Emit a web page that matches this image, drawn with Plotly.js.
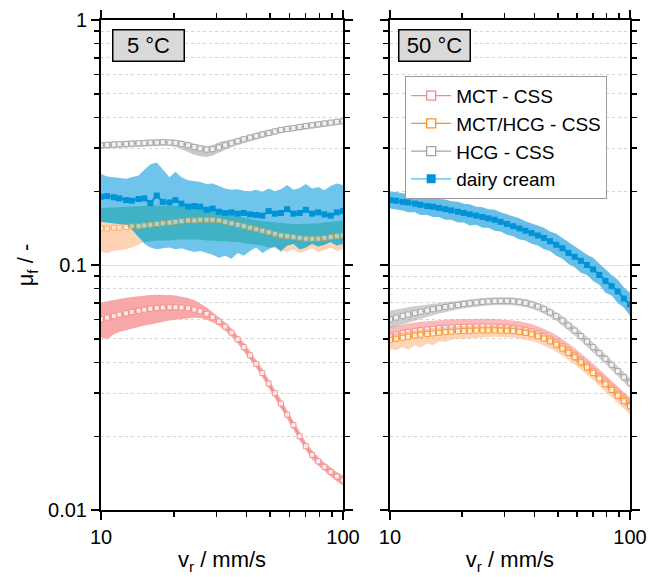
<!DOCTYPE html>
<html>
<head>
<meta charset="utf-8">
<script src="https://cdn.plot.ly/plotly-3.0.1.min.js"></script>
<style>html,body{margin:0;padding:0;background:#fff;}</style>
</head>
<body>
<div id="chart" style="width:650px;height:577px;"></div>
<script>
// sliding speed v_r (mm/s)
const vr = [10,10.6,11.3,11.9,12.7,13.4,14.3,15.1,16,17,18,19.2,20.3,21.5,22.9,24.3,25.7,27.3,28.9,30.7,32.6,34.6,36.7,38.9,41.3,43.8,46.4,49.3,52.3,55.4,58.8,62.4,66.2,70.2,74.5,79,83.8,88.9,94.3,100];

const seriesNames = ['MCT - CSS','MCT/HCG - CSS','HCG - CSS','dairy cream'];
const panelLabels = ['5 °C','50 °C'];

// ---------- 5 °C ----------
const mct5 = [0.0600,0.0610,0.0618,0.0627,0.0635,0.0643,0.0650,0.0657,0.0663,0.0667,0.0670,0.0672,0.0672,0.0670,0.0666,0.0658,0.0648,0.0632,0.0612,0.0588,0.0560,0.0530,0.0497,0.0462,0.0428,0.0395,0.0362,0.0328,0.0300,0.0272,0.0245,0.0222,0.0200,0.0182,0.0168,0.0158,0.0150,0.0143,0.0137,0.0132];
const mct5Up = [0.0700,0.0712,0.0720,0.0728,0.0735,0.0741,0.0747,0.0751,0.0754,0.0756,0.0756,0.0754,0.0750,0.0743,0.0733,0.0718,0.0698,0.0672,0.0642,0.0612,0.0582,0.0551,0.0517,0.0481,0.0445,0.0411,0.0377,0.0341,0.0312,0.0283,0.0255,0.0231,0.0208,0.0189,0.0175,0.0164,0.0156,0.0149,0.0143,0.0138];
const mct5Lo = [0.0508,0.0497,0.0522,0.0533,0.0541,0.0549,0.0556,0.0566,0.0572,0.0580,0.0588,0.0594,0.0598,0.0602,0.0606,0.0609,0.0608,0.0598,0.0584,0.0565,0.0539,0.0510,0.0478,0.0444,0.0411,0.0380,0.0348,0.0315,0.0288,0.0261,0.0235,0.0213,0.0192,0.0175,0.0161,0.0152,0.0144,0.0137,0.0131,0.0126];

const mix5 = [0.141,0.141,0.142,0.142,0.143,0.144,0.144,0.145,0.146,0.147,0.148,0.149,0.150,0.151,0.152,0.152,0.153,0.153,0.153,0.152,0.150,0.148,0.146,0.144,0.142,0.140,0.138,0.136,0.134,0.132,0.131,0.130,0.129,0.128,0.128,0.128,0.129,0.130,0.131,0.132];
const mix5Up = [0.171,0.171,0.172,0.172,0.173,0.173,0.174,0.174,0.175,0.175,0.175,0.175,0.174,0.174,0.173,0.172,0.171,0.170,0.168,0.166,0.164,0.161,0.158,0.156,0.154,0.152,0.151,0.150,0.149,0.148,0.148,0.147,0.147,0.147,0.147,0.148,0.149,0.150,0.151,0.152];
const mix5Lo = [0.113,0.112,0.114,0.115,0.116,0.118,0.121,0.124,0.125,0.126,0.126,0.126,0.127,0.127,0.127,0.127,0.127,0.126,0.126,0.125,0.125,0.124,0.124,0.123,0.122,0.121,0.120,0.118,0.117,0.115,0.113,0.116,0.112,0.114,0.117,0.113,0.115,0.118,0.114,0.116];

const hcg5 = [0.308,0.309,0.310,0.311,0.312,0.313,0.314,0.315,0.316,0.316,0.317,0.316,0.315,0.312,0.308,0.303,0.299,0.296,0.297,0.302,0.308,0.314,0.320,0.326,0.331,0.336,0.341,0.346,0.351,0.356,0.359,0.362,0.366,0.369,0.372,0.375,0.378,0.381,0.384,0.386];
const hcg5Up = [0.318,0.319,0.320,0.321,0.322,0.323,0.324,0.325,0.326,0.326,0.327,0.326,0.325,0.322,0.318,0.313,0.309,0.306,0.308,0.318,0.321,0.325,0.331,0.337,0.342,0.347,0.352,0.357,0.362,0.367,0.370,0.373,0.377,0.380,0.383,0.386,0.389,0.392,0.395,0.397];
const hcg5Lo = [0.298,0.299,0.300,0.301,0.302,0.303,0.304,0.305,0.306,0.306,0.307,0.306,0.304,0.297,0.289,0.282,0.278,0.276,0.280,0.288,0.296,0.303,0.309,0.315,0.320,0.325,0.330,0.335,0.340,0.345,0.348,0.351,0.355,0.358,0.361,0.364,0.367,0.370,0.373,0.375];

const cream5 = [0.190,0.191,0.189,0.187,0.184,0.183,0.186,0.187,0.179,0.192,0.181,0.180,0.184,0.178,0.173,0.174,0.173,0.168,0.170,0.165,0.163,0.164,0.162,0.163,0.161,0.160,0.159,0.166,0.162,0.163,0.169,0.162,0.163,0.168,0.162,0.164,0.161,0.159,0.164,0.166];
const cream5Up = [0.235,0.230,0.228,0.226,0.225,0.228,0.232,0.245,0.258,0.262,0.245,0.228,0.240,0.228,0.222,0.220,0.218,0.214,0.215,0.210,0.205,0.203,0.204,0.201,0.200,0.203,0.199,0.205,0.200,0.204,0.212,0.203,0.206,0.214,0.205,0.208,0.202,0.210,0.215,0.212];
const cream5Lo = [0.150,0.149,0.148,0.147,0.146,0.140,0.130,0.122,0.118,0.116,0.117,0.118,0.116,0.117,0.115,0.113,0.114,0.112,0.110,0.107,0.109,0.106,0.112,0.109,0.114,0.118,0.112,0.116,0.119,0.113,0.120,0.122,0.116,0.118,0.122,0.119,0.121,0.124,0.120,0.122];

// ---------- 50 °C ----------
const mct50 = [0.0515,0.0522,0.0528,0.0533,0.0538,0.0542,0.0546,0.0549,0.0552,0.0554,0.0556,0.0558,0.0559,0.0560,0.0561,0.0561,0.0561,0.0560,0.0559,0.0557,0.0554,0.0550,0.0544,0.0536,0.0526,0.0514,0.0500,0.0484,0.0466,0.0447,0.0428,0.0408,0.0389,0.0369,0.0350,0.0332,0.0314,0.0297,0.0282,0.0268];
const mct50Up = [0.0560,0.0566,0.0572,0.0577,0.0582,0.0586,0.0590,0.0593,0.0596,0.0598,0.0600,0.0601,0.0602,0.0603,0.0603,0.0603,0.0603,0.0602,0.0600,0.0598,0.0594,0.0589,0.0583,0.0574,0.0563,0.0550,0.0535,0.0518,0.0499,0.0478,0.0458,0.0437,0.0416,0.0395,0.0375,0.0355,0.0336,0.0318,0.0302,0.0287];
const mct50Lo = [0.0485,0.0492,0.0498,0.0504,0.0509,0.0514,0.0518,0.0522,0.0525,0.0528,0.0530,0.0532,0.0533,0.0534,0.0535,0.0535,0.0535,0.0534,0.0533,0.0531,0.0528,0.0524,0.0518,0.0510,0.0500,0.0489,0.0476,0.0461,0.0444,0.0426,0.0408,0.0389,0.0371,0.0352,0.0334,0.0317,0.0300,0.0284,0.0269,0.0256];

const mix50 = [0.0495,0.0500,0.0505,0.0510,0.0515,0.0519,0.0523,0.0526,0.0529,0.0532,0.0534,0.0536,0.0538,0.0539,0.0540,0.0541,0.0541,0.0541,0.0540,0.0539,0.0537,0.0533,0.0528,0.0521,0.0512,0.0501,0.0488,0.0473,0.0456,0.0438,0.0420,0.0401,0.0382,0.0363,0.0344,0.0326,0.0309,0.0293,0.0278,0.0265];
const mix50Up = [0.0525,0.0528,0.0532,0.0536,0.0540,0.0544,0.0548,0.0551,0.0554,0.0557,0.0559,0.0561,0.0563,0.0564,0.0565,0.0566,0.0566,0.0566,0.0565,0.0564,0.0562,0.0558,0.0553,0.0546,0.0537,0.0526,0.0513,0.0498,0.0481,0.0462,0.0443,0.0424,0.0404,0.0384,0.0365,0.0346,0.0329,0.0313,0.0297,0.0284];
const mix50Lo = [0.0455,0.0450,0.0462,0.0452,0.0470,0.0460,0.0478,0.0470,0.0488,0.0485,0.0497,0.0499,0.0503,0.0505,0.0507,0.0508,0.0509,0.0509,0.0508,0.0507,0.0505,0.0501,0.0496,0.0489,0.0480,0.0469,0.0457,0.0443,0.0427,0.0410,0.0393,0.0375,0.0357,0.0339,0.0321,0.0304,0.0288,0.0273,0.0258,0.0246];

const hcg50 = [0.0600,0.0610,0.0620,0.0628,0.0636,0.0644,0.0652,0.0660,0.0667,0.0674,0.0681,0.0687,0.0693,0.0698,0.0703,0.0707,0.0710,0.0712,0.0713,0.0713,0.0711,0.0707,0.0700,0.0690,0.0677,0.0660,0.0640,0.0618,0.0593,0.0566,0.0540,0.0513,0.0487,0.0462,0.0437,0.0414,0.0391,0.0369,0.0348,0.0330];
const hcg50Up = [0.0650,0.0658,0.0666,0.0672,0.0678,0.0684,0.0690,0.0695,0.0700,0.0705,0.0710,0.0715,0.0720,0.0725,0.0729,0.0733,0.0736,0.0738,0.0739,0.0739,0.0737,0.0733,0.0726,0.0716,0.0703,0.0686,0.0666,0.0644,0.0619,0.0591,0.0564,0.0536,0.0509,0.0483,0.0457,0.0433,0.0409,0.0386,0.0364,0.0346];
const hcg50Lo = [0.0552,0.0562,0.0574,0.0584,0.0594,0.0604,0.0614,0.0624,0.0634,0.0643,0.0652,0.0659,0.0666,0.0671,0.0677,0.0681,0.0684,0.0686,0.0687,0.0687,0.0685,0.0681,0.0674,0.0664,0.0651,0.0634,0.0614,0.0592,0.0567,0.0541,0.0516,0.0490,0.0465,0.0441,0.0417,0.0395,0.0373,0.0352,0.0332,0.0314];

const cream50 = [0.184,0.183,0.181,0.180,0.178,0.176,0.174,0.173,0.171,0.169,0.167,0.165,0.163,0.161,0.159,0.157,0.155,0.153,0.150,0.147,0.144,0.141,0.138,0.135,0.132,0.129,0.125,0.121,0.117,0.112,0.108,0.104,0.100,0.096,0.091,0.086,0.082,0.078,0.073,0.069];
const cream50Up = [0.198,0.199,0.196,0.197,0.193,0.193,0.189,0.190,0.186,0.185,0.182,0.181,0.178,0.177,0.173,0.172,0.169,0.168,0.164,0.161,0.158,0.155,0.151,0.148,0.145,0.142,0.137,0.134,0.129,0.124,0.119,0.115,0.110,0.107,0.101,0.096,0.091,0.087,0.081,0.077];
const cream50Lo = [0.170,0.168,0.167,0.164,0.164,0.160,0.160,0.157,0.157,0.153,0.153,0.149,0.149,0.145,0.146,0.142,0.142,0.138,0.137,0.133,0.131,0.127,0.126,0.122,0.120,0.116,0.114,0.109,0.106,0.101,0.098,0.093,0.091,0.086,0.083,0.077,0.075,0.070,0.067,0.062];

// axis ticks
const yMajor = [0.01,0.1,1];
const yMajorText = ['0.01','0.1','1'];
const yMinor = [0.02,0.03,0.04,0.05,0.06,0.07,0.08,0.09,0.2,0.3,0.4,0.5,0.6,0.7,0.8,0.9];
const xMajor = [10,100];
const xMajorText = ['10','100'];
const xMinor = [20,30,40,50,60,70,80,90];

// ---------- styles ----------
const C = {
  mct:  {line:'#f48a8a', band:'#f8a8a8', band50:'rgba(246,130,130,0.55)'},
  mix:  {line:'#f7941d', band:'#fdd3b4', band50:'rgba(252,170,110,0.5)'},
  hcg:  {line:'#a3a3a3', band:'#c9c9c9', band50:'rgba(165,165,165,0.55)'},
  cream:{line:'#0093d9', lline:'#45bde9', band:'#6ec4ea', band50:'#66bfe8'},
  overlap:'#3fb2c6'
};

const traces = [];
function band(xa, ya, lo, up, color) {
  traces.push({x:vr, y:lo, xaxis:xa, yaxis:ya, type:'scatter', mode:'lines',
    line:{width:0, color:color}, showlegend:false, hoverinfo:'skip'});
  traces.push({x:vr, y:up, xaxis:xa, yaxis:ya, type:'scatter', mode:'lines',
    line:{width:0, color:color}, fill:'tonexty', fillcolor:color, showlegend:false, hoverinfo:'skip'});
}
function openLine(xa, ya, y, color, op) {
  traces.push({x:vr, y:y, xaxis:xa, yaxis:ya, type:'scatter', mode:'lines+markers',
    opacity: op || 1,
    line:{width:1.2, color:color},
    marker:{symbol:'square', size:5, color:'rgba(255,255,255,0.8)', line:{color:color, width:0.9}},
    showlegend:false});
}
function creamLine(xa, ya, y) {
  traces.push({x:vr, y:y, xaxis:xa, yaxis:ya, type:'scatter', mode:'lines+markers',
    line:{width:2, color:C.cream.line},
    marker:{symbol:'square', size:6, color:C.cream.line, line:{width:0}},
    showlegend:false});
}

// overlap of the cream and MCT/HCG bands at 5 °C
const ovLo = vr.map((_, i) => Math.max(cream5Lo[i], mix5Lo[i]));
const ovUp = vr.map((_, i) => Math.max(ovLo[i], Math.min(cream5Up[i], mix5Up[i])));

// 5 °C panel
band('x','y', mix5Lo, mix5Up, C.mix.band);
band('x','y', cream5Lo, cream5Up, C.cream.band);
band('x','y', ovLo, ovUp, C.overlap);
band('x','y', mct5Lo, mct5Up, C.mct.band);
band('x','y', hcg5Lo, hcg5Up, C.hcg.band);
openLine('x','y', mct5, C.mct.line);
openLine('x','y', mix5, C.mix.line, 0.6);
openLine('x','y', hcg5, C.hcg.line);
creamLine('x','y', cream5);

// 50 °C panel
band('x2','y2', mct50Lo, mct50Up, C.mct.band50);
openLine('x2','y2', mct50, C.mct.line);
band('x2','y2', mix50Lo, mix50Up, C.mix.band50);
openLine('x2','y2', mix50, C.mix.line);
band('x2','y2', hcg50Lo, hcg50Up, C.hcg.band50);
openLine('x2','y2', hcg50, C.hcg.line);
band('x2','y2', cream50Lo, cream50Up, C.cream.band50);
creamLine('x2','y2', cream50);

// legend entries
const legCols = [C.mct.line, C.mix.line, C.hcg.line];
for (let k = 0; k < 3; k++) {
  traces.push({x:[null], y:[null], xaxis:'x2', yaxis:'y2', type:'scatter', mode:'lines+markers',
    name:seriesNames[k], line:{width:1.2, color:legCols[k]},
    marker:{symbol:'square', size:9, color:'#fff', line:{color:legCols[k], width:1.3}}});
}
traces.push({x:[null], y:[null], xaxis:'x2', yaxis:'y2', type:'scatter', mode:'lines+markers',
  name:seriesNames[3], line:{width:1.2, color:C.cream.lline},
  marker:{symbol:'square', size:9, color:C.cream.line}});

function xAxis(domain, anchor) {
  return {type:'log', domain:domain, anchor:anchor, range:[1,2],
    tickmode:'array', tickvals:xMajor, ticktext:xMajorText,
    ticks:'outside', ticklen:8, tickwidth:1.5, tickcolor:'#000',
    showline:true, linewidth:2, linecolor:'#000', mirror:'ticks',
    showgrid:false, zeroline:false,
    minor:{tickmode:'array', tickvals:xMinor, ticks:'outside', ticklen:5, tickwidth:1.5, tickcolor:'#000', showgrid:false},
    tickfont:{size:20},
    title:{text:'v<sub>r</sub> / mm/s', font:{size:22}, standoff:5}};
}
function yAxis(anchor, labels) {
  const a = {type:'log', domain:[0,1], anchor:anchor, range:[-2,0],
    tickmode:'array', tickvals:yMajor, ticktext:yMajorText, showticklabels:labels,
    ticks:'outside', ticklen:8, tickwidth:1.5, tickcolor:'#000',
    showline:true, linewidth:2, linecolor:'#000', mirror:'ticks',
    showgrid:true, gridcolor:'#e2e2e2', gridwidth:1, zeroline:false,
    minor:{tickmode:'array', tickvals:yMinor, ticks:'outside', ticklen:5, tickwidth:1.5, tickcolor:'#000',
      showgrid:true, gridcolor:'#d4d4d4', griddash:'dot', gridwidth:1},
    tickfont:{size:20}};
  if (labels) a.title = {text:'μ<sub>f</sub> / -', font:{size:22}, standoff:8};
  return a;
}

const layout = {
  width:650, height:577,
  margin:{l:101, r:20, t:20, b:67},
  paper_bgcolor:'#fff', plot_bgcolor:'#fff',
  font:{family:'Liberation Sans, Arial, sans-serif', size:19, color:'#000'},
  xaxis: xAxis([0, 0.4575], 'y'),
  yaxis: yAxis('x', true),
  xaxis2: xAxis([0.5463, 1], 'y2'),
  yaxis2: yAxis('x2', false),
  showlegend:true,
  legend:{x:0.575, y:0.886, xanchor:'left', yanchor:'top', bgcolor:'#fff', traceorder:'normal',
    bordercolor:'#9a9a9a', borderwidth:1, font:{size:19}, tracegroupgap:0, itemwidth:40},
  annotations:[
    {text:panelLabels[0], xref:'paper', yref:'paper', x:0.0208, y:0.9816, xanchor:'left', yanchor:'top',
     showarrow:false, bgcolor:'#d9d9d9', bordercolor:'#000', borderwidth:1.5, borderpad:3,
     width:64, height:24, font:{size:22}},
    {text:panelLabels[1], xref:'paper', yref:'paper', x:0.5614, y:0.9816, xanchor:'left', yanchor:'top',
     showarrow:false, bgcolor:'#d9d9d9', bordercolor:'#000', borderwidth:1.5, borderpad:3,
     width:64, height:24, font:{size:22}}
  ]
};

Plotly.newPlot('chart', traces, layout, {displayModeBar:false, staticPlot:true});
</script>
</body>
</html>
